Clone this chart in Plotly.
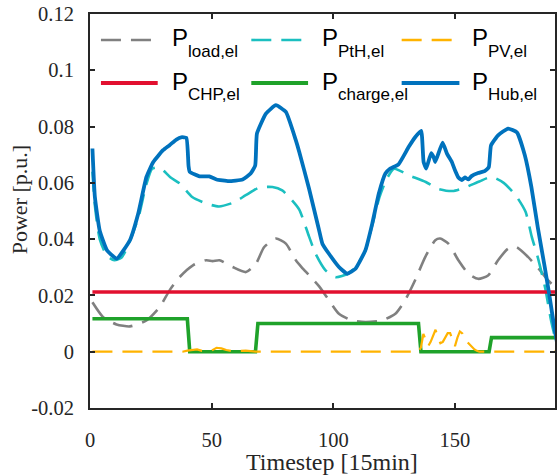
import plotly.graph_objects as go

# ---------------- data ----------------
t_hub = [1, 2, 4, 7, 11, 16.4, 19.8, 23.2, 26, 30, 32.7, 35.5, 37.5, 39.6, 40.5, 41,
         45, 49, 52, 57, 62.7, 66, 67.9, 68.6, 72.3, 76.4, 80.5, 84.6, 86, 90, 94, 95.5,
         98.2, 102.3, 105.7, 109.1, 113.2, 116, 118.7, 121.4, 123.4, 126.8, 131, 133.7,
         136.1, 137.1, 138.2, 140.2, 141.2, 141.9, 144.9, 146.7, 148.7, 150, 151.4, 152.8,
         154.1, 155.5, 156.8, 159.5, 162.2, 163.9, 164.8, 167.7, 171.8, 175.5, 178.7,
         181.4, 184, 186.9, 188.9, 191, 192]
p_hub = [0.0722, 0.055, 0.043, 0.036, 0.0331, 0.0396, 0.049, 0.0621, 0.0674, 0.0716,
         0.0734, 0.0754, 0.0762, 0.0760, 0.066, 0.0639, 0.0623, 0.0623, 0.0612, 0.0606,
         0.0612, 0.0633, 0.0662, 0.0775, 0.0846, 0.0876, 0.0852, 0.0751, 0.071, 0.0580,
         0.0437, 0.0384, 0.0348, 0.0301, 0.0277, 0.0295, 0.0361, 0.0455, 0.0562, 0.0633,
         0.0651, 0.0666, 0.0728, 0.0763, 0.0785, 0.0674, 0.0651, 0.0706, 0.0692, 0.0674,
         0.0743, 0.0704, 0.0674, 0.0645, 0.0619, 0.0610, 0.0619, 0.0612, 0.0624, 0.0635,
         0.0642, 0.0656, 0.0733, 0.0769, 0.0793, 0.0779, 0.0698, 0.0585, 0.0443, 0.0300,
         0.0194, 0.0076, 0.003]

t_pth = [1, 2, 4, 7, 10, 13, 16, 20, 23, 25.5, 28, 30, 33, 37, 42, 48, 53, 59, 64, 69.5,
         75, 79, 83, 86, 88, 90, 92.7, 96.8, 101, 106, 109, 113, 116, 119, 122, 125, 131,
         138, 143, 149, 154, 160, 165, 170, 175, 179, 181.5, 184, 187, 189.5, 191, 192]
p_pth = [0.064, 0.052, 0.040, 0.034, 0.0325, 0.0335, 0.0385, 0.048, 0.059, 0.065, 0.0655,
         0.0645, 0.062, 0.0597, 0.055, 0.0526, 0.0516, 0.053, 0.0556, 0.0583, 0.0585,
         0.0573, 0.0538, 0.0505, 0.046, 0.041, 0.0348, 0.0289, 0.0265, 0.0277, 0.030,
         0.0355, 0.045, 0.055, 0.0615, 0.065, 0.0627, 0.0603, 0.0579, 0.0571, 0.0583,
         0.0605, 0.0621, 0.0600, 0.0555, 0.0497, 0.041, 0.0336, 0.0229, 0.011, 0.0055, 0.003]

t_load = [1, 5.4, 10.9, 16.4, 23.2, 28.6, 32.7, 36.8, 42.3, 47.7, 50.4, 53.2, 58.6, 64.1,
          68.2, 71.6, 76.4, 80.5, 84.6, 87, 90, 94.1, 98.2, 102.3, 107.7, 113.2, 120,
          125.5, 129.5, 133.6, 137.8, 141.9, 143.9, 147.3, 151.4, 155.5, 159.5, 163.6,
          167.7, 171.8, 175.2, 180, 184.1, 188.2, 191, 192]
p_load = [0.0176, 0.0123, 0.0097, 0.0090, 0.0111, 0.0158, 0.0218, 0.0265, 0.0307, 0.0325,
          0.0322, 0.0325, 0.0301, 0.0283, 0.0313, 0.0372, 0.0402, 0.0384, 0.0325, 0.0300,
          0.0272, 0.0233, 0.0183, 0.0135, 0.0111, 0.0105, 0.0111, 0.0135, 0.0183, 0.0254,
          0.0337, 0.0396, 0.0402, 0.0384, 0.0325, 0.0277, 0.0259, 0.0271, 0.0325, 0.0366,
          0.0372, 0.0337, 0.0298, 0.0254, 0.0230, 0.0220]

t_chp = [1, 192]
p_chp = [0.0212, 0.0212]

t_charge = [1, 40, 41, 68, 69, 135, 136, 164, 165, 192]
p_charge = [0.0117, 0.0117, 0.0, 0.0, 0.0100, 0.0100, 0.0, 0.0, 0.0050, 0.0050]

t_pv = [1, 38, 40, 42, 44, 46, 48, 50, 52, 54, 56, 58, 60, 62, 64, 66, 68, 135, 136, 137,
        138, 139, 140, 141, 142, 143, 144, 145, 146, 147, 148, 149, 150, 151, 152, 153,
        154, 155, 156, 157, 158, 159, 160, 192]
p_pv = [0, 0, 0.0004, 0.0007, 0.0008, 0.0003, 0.0002, 0.0004, 0.0014, 0.0012, 0.0006,
        0.0003, 0.0002, 0.0003, 0.0004, 0.0002, 0, 0, 0.0015, 0.0063, 0.0040, 0.0020,
        0.0035, 0.0060, 0.0078, 0.0050, 0.0030, 0.0035, 0.0050, 0.0066, 0.0066, 0.0040,
        0.0020, 0.0050, 0.0072, 0.0065, 0.0045, 0.0035, 0.0025, 0.0015, 0.0008, 0.0003,
        0, 0]

y_tickvals = [-0.02, 0, 0.02, 0.04, 0.06, 0.08, 0.1, 0.12]
y_ticktext = ["-0.02", "0", "0.02", "0.04", "0.06", "0.08", "0.1", "0.12"]
x_tickvals = [0, 50, 100, 150]
x_ticktext = ["0", "50", "100", "150"]

names = ["load,el", "PtH,el", "PV,el", "CHP,el", "charge,el", "Hub,el"]
colors = {"load,el": "#808080", "PtH,el": "#1BBFC0", "PV,el": "#FFB300",
          "CHP,el": "#E2102F", "charge,el": "#1FA22A", "Hub,el": "#0072BD"}

# ---------------- figure ----------------
W, H = 557, 476
L, R, T, B = 90, 0, 14, 68
PW, PH = W - L - R, H - T - B
SERIF = "Liberation Serif"
SANS = "Liberation Sans"
INK = "#262626"

DASH = "20px,10px"
fig = go.Figure()
fig.add_trace(go.Scatter(x=t_load, y=p_load, mode="lines",
                         line=dict(color=colors["load,el"], width=2.6, dash=DASH,
                                   shape="spline", smoothing=0.6)))
fig.add_trace(go.Scatter(x=t_pth, y=p_pth, mode="lines",
                         line=dict(color=colors["PtH,el"], width=2.6, dash=DASH,
                                   shape="spline", smoothing=0.6)))
fig.add_trace(go.Scatter(x=t_chp, y=p_chp, mode="lines",
                         line=dict(color=colors["CHP,el"], width=3.6)))
fig.add_trace(go.Scatter(x=t_charge, y=p_charge, mode="lines",
                         line=dict(color=colors["charge,el"], width=3.6)))
fig.add_trace(go.Scatter(x=t_pv, y=p_pv, mode="lines",
                         line=dict(color=colors["PV,el"], width=2.2, dash=DASH)))
fig.add_trace(go.Scatter(x=t_hub, y=p_hub, mode="lines",
                         line=dict(color=colors["Hub,el"], width=3.8,
                                   shape="spline", smoothing=0.4)))


def px2x(px):
    return (px - L) / PW


def px2y(py):
    return (H - B - py) / PH


shapes = []
annotations = []
# legend (3 columns x 2 rows)
col_sym = [(101, 158), (252, 309), (403, 461)]
col_P = [170, 321, 472]
col_sub = [186, 337, 488]
row_y = [40, 83]
for i, nm in enumerate(names):
    r, c = divmod(i, 3)
    dashed = r == 0
    shapes.append(dict(type="line", xref="paper", yref="paper",
                       x0=px2x(col_sym[c][0]), x1=px2x(col_sym[c][1]),
                       y0=px2y(row_y[r]), y1=px2y(row_y[r]),
                       line=dict(color=colors[nm], width=2.6 if dashed else 3.8,
                                 dash=DASH if dashed else "solid")))
    annotations.append(dict(xref="paper", yref="paper", x=px2x(col_P[c]),
                            y=px2y(row_y[r] - 2), xanchor="left", yanchor="middle",
                            text="P", showarrow=False,
                            font=dict(family=SANS, size=24, color="#000")))
    annotations.append(dict(xref="paper", yref="paper", x=px2x(col_sub[c]),
                            y=px2y(row_y[r] + 11), xanchor="left", yanchor="middle",
                            text=nm, showarrow=False,
                            font=dict(family=SANS, size=17, color="#000")))

# axis titles
annotations.append(dict(xref="paper", yref="paper", x=px2x(333), y=px2y(462),
                        xanchor="center", yanchor="middle", text="Timestep [15min]",
                        showarrow=False,
                        font=dict(family=SERIF, size=24, color=INK)))
annotations.append(dict(xref="paper", yref="paper", x=px2x(19), y=px2y(200),
                        xanchor="center", yanchor="middle", text="Power [p.u.]",
                        textangle=-90, showarrow=False,
                        font=dict(family=SERIF, size=22, color=INK)))

fig.update_layout(
    width=W, height=H,
    margin=dict(l=L, r=R, t=T, b=B),
    paper_bgcolor="white", plot_bgcolor="white",
    font=dict(family=SERIF, size=20.5, color=INK),
    showlegend=False,
    shapes=shapes, annotations=annotations,
)
for ax, extra in ((fig.layout.xaxis, dict(range=[0, 191.1], tickvals=x_tickvals,
                                          ticktext=x_ticktext, ticklabelstandoff=12)),
                  (fig.layout.yaxis, dict(range=[-0.02, 0.12], tickvals=y_tickvals,
                                          ticktext=y_ticktext, ticklabelstandoff=10))):
    ax.update(showline=True, linecolor=INK, linewidth=2, mirror="ticks",
              ticks="inside", ticklen=5, tickwidth=1.5, tickcolor=INK,
              showgrid=False, zeroline=False,
              tickfont=dict(family=SERIF, size=20.5, color=INK), **extra)

fig.write_html("out.html",
               config={"displayModeBar": False},
               post_script="document.body.style.margin='0';"
                           "document.body.style.overflow='hidden';")
